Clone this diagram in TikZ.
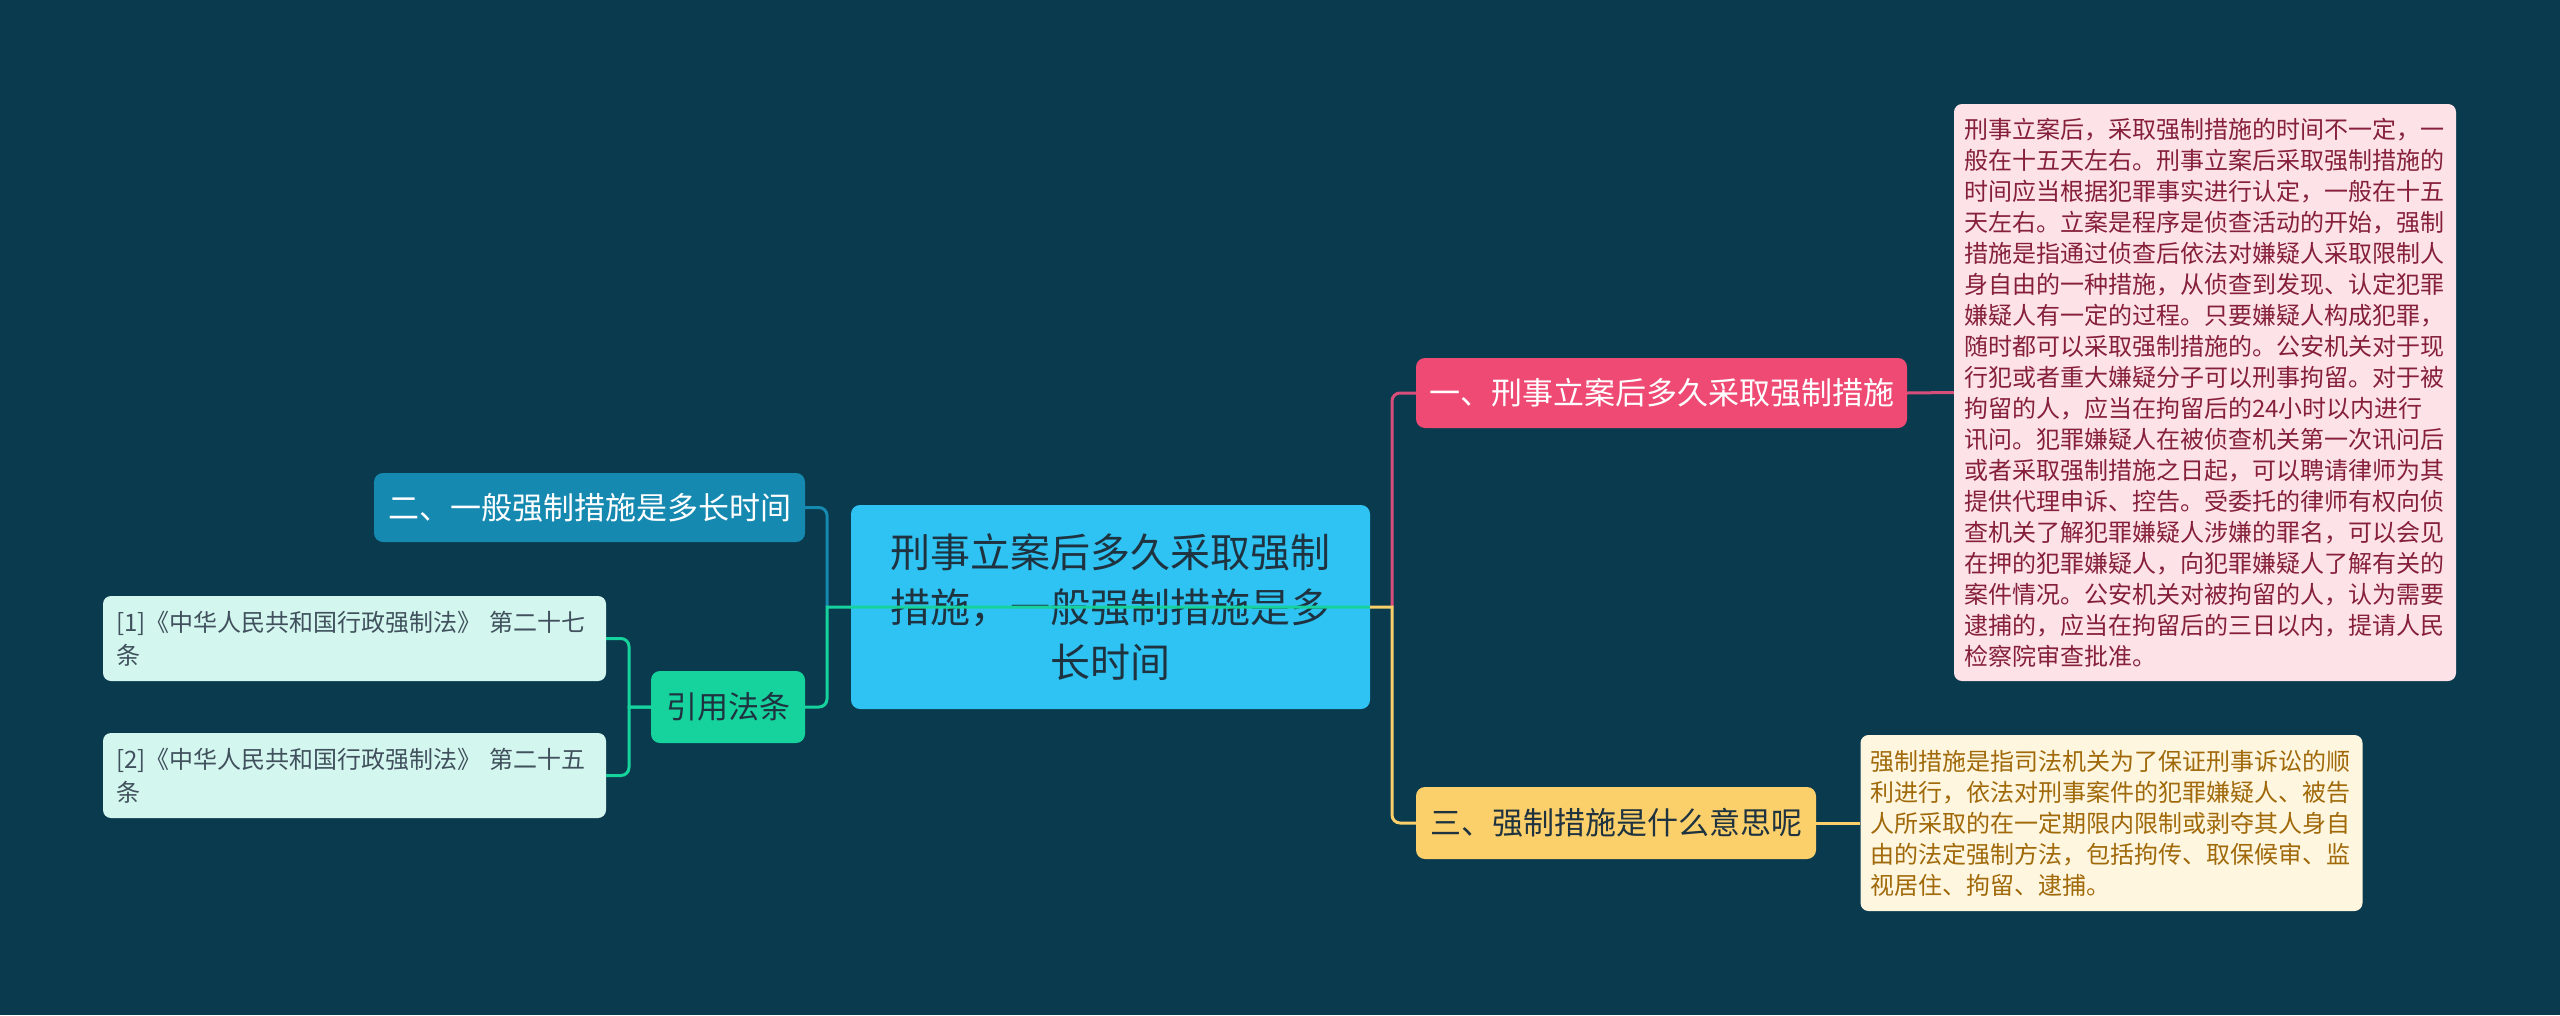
\documentclass[tikz,border=0pt]{standalone}
\usepackage{fontspec}
\setmainfont{Noto Sans CJK SC}

\definecolor{bgcol}{HTML}{0A3A4D}
\definecolor{rootcol}{HTML}{2EC3F2}
\definecolor{bluecol}{HTML}{1689B1}
\definecolor{greencol}{HTML}{16D39E}
\definecolor{mintcol}{HTML}{D3F6EE}
\definecolor{pinkcol}{HTML}{EE4A74}
\definecolor{pinkline}{HTML}{D84E7A}
\definecolor{pinklite}{HTML}{FDE3E8}
\definecolor{pinktext}{HTML}{86203A}
\definecolor{yellowcol}{HTML}{FBD06A}
\definecolor{yellowlite}{HTML}{FEF6DF}
\definecolor{yellowtext}{HTML}{A0690A}
\definecolor{darktext}{HTML}{1E3240}

\begin{document}
\begin{tikzpicture}[x=1pt, y=-1pt,
  topic/.style={rounded corners=9pt, inner sep=0pt, align=center},
  note/.style={rounded corners=8pt, inner xsep=10pt, inner ysep=0pt, align=left,
    text width=482pt, font=\fontsize{24}{31}\selectfont},
  cite/.style={rounded corners=8pt, inner xsep=13pt, inner ysep=0pt, align=left,
    text width=477pt, minimum height=85pt, fill=mintcol, text=darktext!85,
    font=\fontsize{24}{33}\selectfont},
  link/.style={line width=3pt}]
\useasboundingbox (0,0) rectangle (2560,1015);
\fill[bgcol] (0,0) rectangle (2560,1015);

% centre
\node[topic, fill=rootcol, text=darktext, minimum width=519pt, minimum height=204pt,
  font=\fontsize{40}{55}\selectfont] (root) at (1110.5,607)
  {刑事立案后多久采取强制\\措施，一般强制措施是多\\长时间};

% left side
\node[topic, fill=bluecol, text=white, minimum width=431pt, minimum height=69pt,
  font=\fontsize{31}{38}\selectfont] (two) at (589.5,507.5) {二、一般强制措施是多长时间};
\node[topic, fill=greencol, text=darktext, minimum width=154pt, minimum height=72pt,
  font=\fontsize{31}{38}\selectfont] (law) at (728,707) {引用法条};
\node[cite] (law1) at (354.5,638.5) {[1]《中华人民共和国行政强制法》 第二十七\\条};
\node[cite] (law2) at (354.5,775.5) {[2]《中华人民共和国行政强制法》 第二十五\\条};

% right side
\node[topic, fill=pinkcol, text=white, minimum width=491pt, minimum height=70pt,
  font=\fontsize{31}{38}\selectfont] (one) at (1661.5,393) {一、刑事立案后多久采取强制措施};
\node[topic, fill=yellowcol, text=darktext, minimum width=400pt, minimum height=72pt,
  font=\fontsize{31}{38}\selectfont] (three) at (1616,823) {三、强制措施是什么意思呢};

\node[note, fill=pinklite, text=pinktext, minimum height=577pt] (oneinfo) at (2205,392.5)
  {刑事立案后，采取强制措施的时间不一定，一\\
   般在十五天左右。刑事立案后采取强制措施的\\
   时间应当根据犯罪事实进行认定，一般在十五\\
   天左右。立案是程序是侦查活动的开始，强制\\
   措施是指通过侦查后依法对嫌疑人采取限制人\\
   身自由的一种措施，从侦查到发现、认定犯罪\\
   嫌疑人有一定的过程。只要嫌疑人构成犯罪，\\
   随时都可以采取强制措施的。公安机关对于现\\
   行犯或者重大嫌疑分子可以刑事拘留。对于被\\
   拘留的人，应当在拘留后的24小时以内进行\\
   讯问。犯罪嫌疑人在被侦查机关第一次讯问后\\
   或者采取强制措施之日起，可以聘请律师为其\\
   提供代理申诉、控告。受委托的律师有权向侦\\
   查机关了解犯罪嫌疑人涉嫌的罪名，可以会见\\
   在押的犯罪嫌疑人，向犯罪嫌疑人了解有关的\\
   案件情况。公安机关对被拘留的人，认为需要\\
   逮捕的，应当在拘留后的三日以内，提请人民\\
   检察院审查批准。};
\node[note, fill=yellowlite, text=yellowtext, minimum height=176pt] (threeinfo) at (2111.5,823)
  {强制措施是指司法机关为了保证刑事诉讼的顺\\
   利进行，依法对刑事案件的犯罪嫌疑人、被告\\
   人所采取的在一定期限内限制或剥夺其人身自\\
   由的法定强制方法，包括拘传、取保候审、监\\
   视居住、拘留、逮捕。};

% junctions
\coordinate (jl) at (827,607);
\coordinate (jr) at (1392,607);
\coordinate (jc) at (629,707);

% connectors
\draw[link, bluecol, rounded corners=8pt] (two.east) -| (jl);
\draw[link, greencol] (law.east) [rounded corners=8pt] -- (law.east -| jl)
  [sharp corners] -- (jl) -- (root.east);
\draw[link, pinkline, rounded corners=8pt] (jr) |- (one.west);
\draw[link, yellowcol] (root.east) -- (jr) [rounded corners=8pt] -- (jr |- three.west)
  -- (three.west);
\foreach \leaf in {law1, law2}
  \draw[link, greencol] (law.west) -- (jc) [rounded corners=8pt] -- (jc |- \leaf.east)
    -- (\leaf.east);
\draw[link, pinkline] (one.east) -- (oneinfo.west);
\draw[link, yellowcol] (three.east) -- (threeinfo.west);
\end{tikzpicture}
\end{document}
